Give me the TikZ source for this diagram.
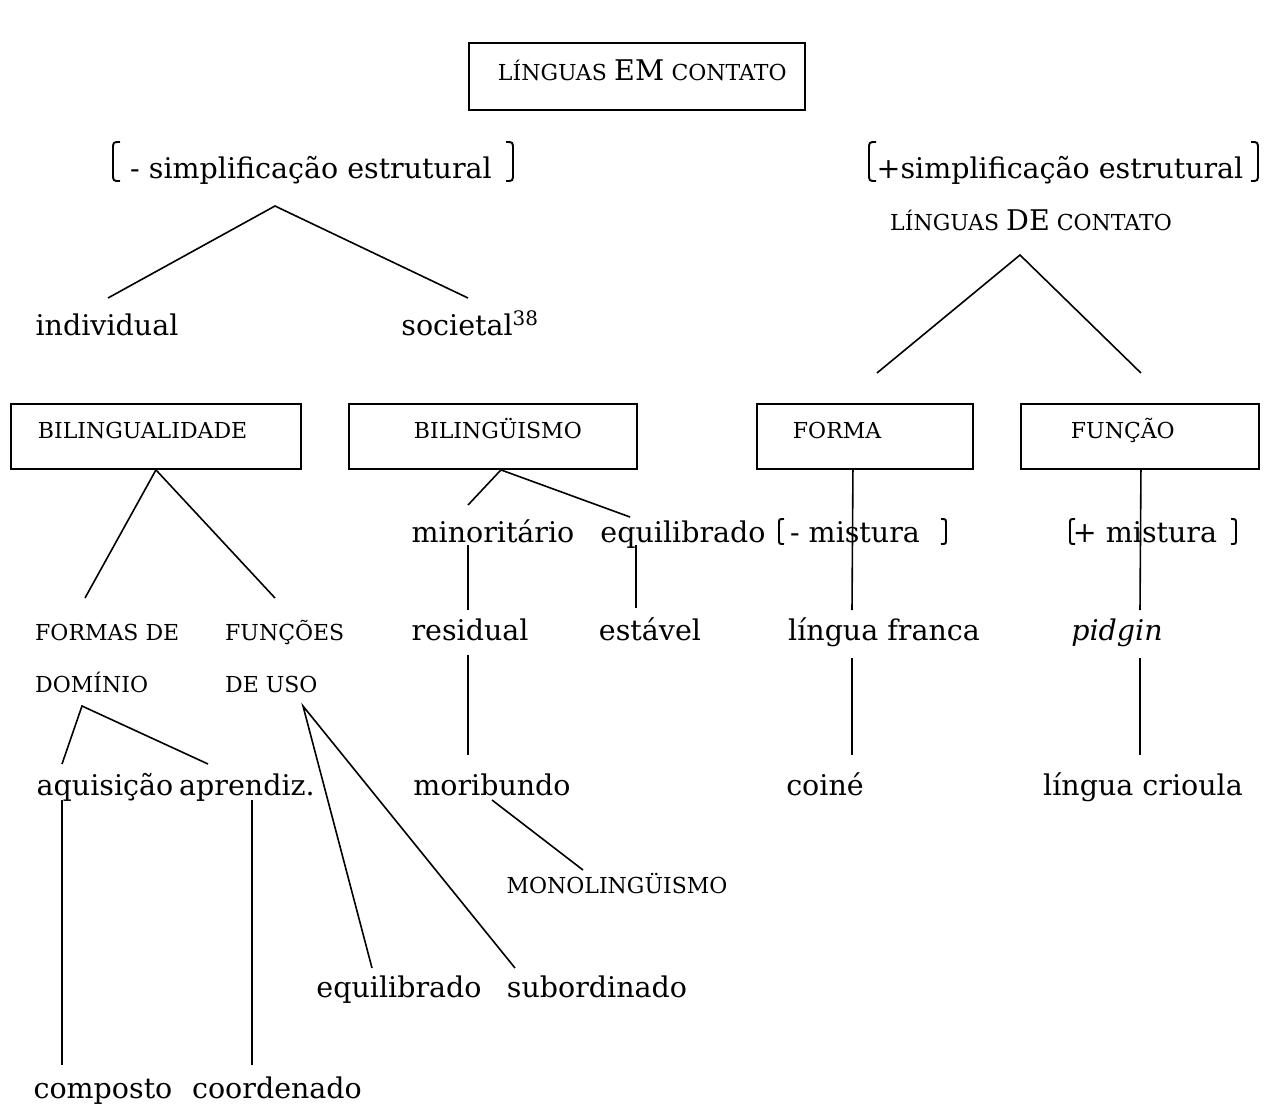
\documentclass[tikz,border=0pt]{standalone}
\usepackage{fontspec}
\setmainfont{DejaVu Serif}
\usetikzlibrary{calc}

\newcommand{\grande}[1]{{\fontsize{28.5}{32}\selectfont #1}}

\tikzset{
  txt/.style={inner sep=0pt, anchor=base, font=\fontsize{28.5}{32}\selectfont},
  sc/.style={inner sep=0pt, anchor=base, font=\fontsize{22}{26}\selectfont},
  cbox/.style={draw, line width=1.9pt, anchor=north west, inner ysep=0pt,
    align=left, font=\fontsize{22}{26}\selectfont},
  conn/.style={line width=1.6pt},
  brk/.style={line width=1.9pt},
}

\begin{document}
\begin{tikzpicture}[x=1pt,y=-1pt]
  \useasboundingbox (0,0) rectangle (1266,1104);

  % caixas
  \node[cbox, inner xsep=29pt, text width=278pt, text height=38pt, text depth=29pt]
    (top) at (468,42) {\mbox{LÍNGUAS \grande{EM} CONTATO}};
  \node[cbox, inner xsep=27pt, text width=236pt, text height=35pt, text depth=30pt]
    (bil1) at (10,403) {BILINGUALIDADE};
  \node[cbox, inner xsep=65pt, text width=158pt, text height=35pt, text depth=30pt]
    (bil2) at (348,403) {BILINGÜISMO};
  \node[cbox, inner xsep=36pt, text width=144pt, text height=35pt, text depth=30pt]
    (forma) at (756,403) {FORMA};
  \node[cbox, inner xsep=50pt, text width=138pt, text height=35pt, text depth=30pt]
    (funcao) at (1020,403) {FUNÇÃO};

  % textos
  \node[txt] (simL) at (311,178) {- simplificação estrutural};
  \node[txt] (simR) at (1060,178) {+simplificação estrutural};
  \node[sc] (lingDC) at (1031,230) {LÍNGUAS \grande{DE} CONTATO};
  \node[txt] (ind) at (107,335) {individual};
  \node[txt] (soc) at (470,335) {societal\textsuperscript{38}};
  \node[txt] (minor) at (493,542) {minoritário};
  \node[txt] (equil) at (683,542) {equilibrado};
  \node[txt] (mistL) at (855,542) {- mistura};
  \node[txt] (mistR) at (1145,542) {+ mistura};
  \node[sc, anchor=base west] (formas) at (35,640) {FORMAS DE};
  \node[sc, anchor=base west] (funcoes) at (225,640) {FUNÇÕES};
  \node[sc, anchor=base west] (dominio) at (35,692) {DOMÍNIO};
  \node[sc, anchor=base west] (deuso) at (225,692) {DE USO};
  \node[txt] (resid) at (470,640) {residual};
  \node[txt] (estav) at (650,640) {estável};
  \node[txt] (lfranca) at (884,640) {língua franca};
  \node[txt] (pidgin) at (1117,640) {\textit{pidgin}};
  \node[txt] (aquis) at (105,795) {aquisição};
  \node[txt] (aprend) at (247,795) {aprendiz.};
  \node[txt] (morib) at (492,795) {moribundo};
  \node[txt] (coine) at (825,795) {coiné};
  \node[txt] (crioula) at (1143,795) {língua crioula};
  \node[sc] (mono) at (617,893) {MONOLINGÜISMO};
  \node[txt] (equil2) at (399,997) {equilibrado};
  \node[txt] (subord) at (597,997) {subordinado};
  \node[txt] (compo) at (103,1098) {composto};
  \node[txt] (coord) at (277,1098) {coordenado};

  % colchetes
  \draw[brk] (120,142) .. controls (113,142) .. (113,150) -- (113,173) .. controls (113,181) .. (120,181);
  \draw[brk] (506,142) .. controls (513,142) .. (513,150) -- (513,173) .. controls (513,181) .. (506,181);
  \draw[brk] (876,142) .. controls (869,142) .. (869,150) -- (869,173) .. controls (869,181) .. (876,181);
  \draw[brk] (1251,142) .. controls (1258,142) .. (1258,150) -- (1258,173) .. controls (1258,181) .. (1251,181);
  \draw[brk] (784,519) .. controls (779,519) .. (779,524) -- (779,539) .. controls (779,544) .. (784,544);
  \draw[brk] (941,519) .. controls (946,519) .. (946,524) -- (946,539) .. controls (946,544) .. (941,544);
  \draw[brk] (1075,519) .. controls (1070,519) .. (1070,524) -- (1070,539) .. controls (1070,544) .. (1075,544);
  \draw[brk] (1231,519) .. controls (1236,519) .. (1236,524) -- (1236,539) .. controls (1236,544) .. (1231,544);

  % ligacoes
  \draw[conn] ($(ind.base)+(1,-37)$) -- ($(simL.base)+(-36,28)$) -- ($(soc.base)+(-2,-37)$);
  \draw[conn] ($(forma.north)+(12,-30)$) -- ($(lingDC.base)+(-11,25)$) -- ($(funcao.north)+(1,-30)$);
  \draw[conn] ($(formas.base west)+(50,-42)$) -- (bil1.south) -- ($(funcoes.base west)+(50,-42)$);
  \draw[conn] ($(minor.base)+(-25,-37)$) -- ($(bil2.south)+(8,0)$) -- ($(equil.base)+(-53,-25)$);
  \draw[conn] ($(forma.south)+(-12,0)$) -- ($(lfranca.base)+(-32,-30)$);
  \draw[conn] ($(funcao.south)+(1,0)$) -- ($(pidgin.base)+(23,-30)$);
  \draw[conn] ($(minor.base)+(-25,3)$) -- ($(resid.base)+(-2,-30)$);
  \draw[conn] ($(equil.base)+(-47,3)$) -- ($(estav.base)+(-14,-32)$);
  \draw[conn] ($(resid.base)+(-2,15)$) -- ($(morib.base)+(-24,-40)$);
  \draw[conn] ($(morib.base)+(0,5)$) -- ($(mono.base)+(-34,-23)$);
  \draw[conn] ($(aquis.base)+(-43,-31)$) -- ($(dominio.base west)+(47,14)$) -- ($(aprend.base)+(-39,-31)$);
  \draw[conn] ($(equil2.base)+(-27,-29)$) -- ($(deuso.base west)+(78,14)$) -- ($(subord.base)+(-82,-29)$);
  \draw[conn] ($(aquis.base)+(-43,5)$) -- ($(compo.base)+(-41,-33)$);
  \draw[conn] ($(aprend.base)+(5,5)$) -- ($(coord.base)+(-25,-33)$);
  \draw[conn] ($(lfranca.base)+(-32,18)$) -- ($(coine.base)+(27,-40)$);
  \draw[conn] ($(pidgin.base)+(23,18)$) -- ($(crioula.base)+(-3,-40)$);
\end{tikzpicture}
\end{document}
